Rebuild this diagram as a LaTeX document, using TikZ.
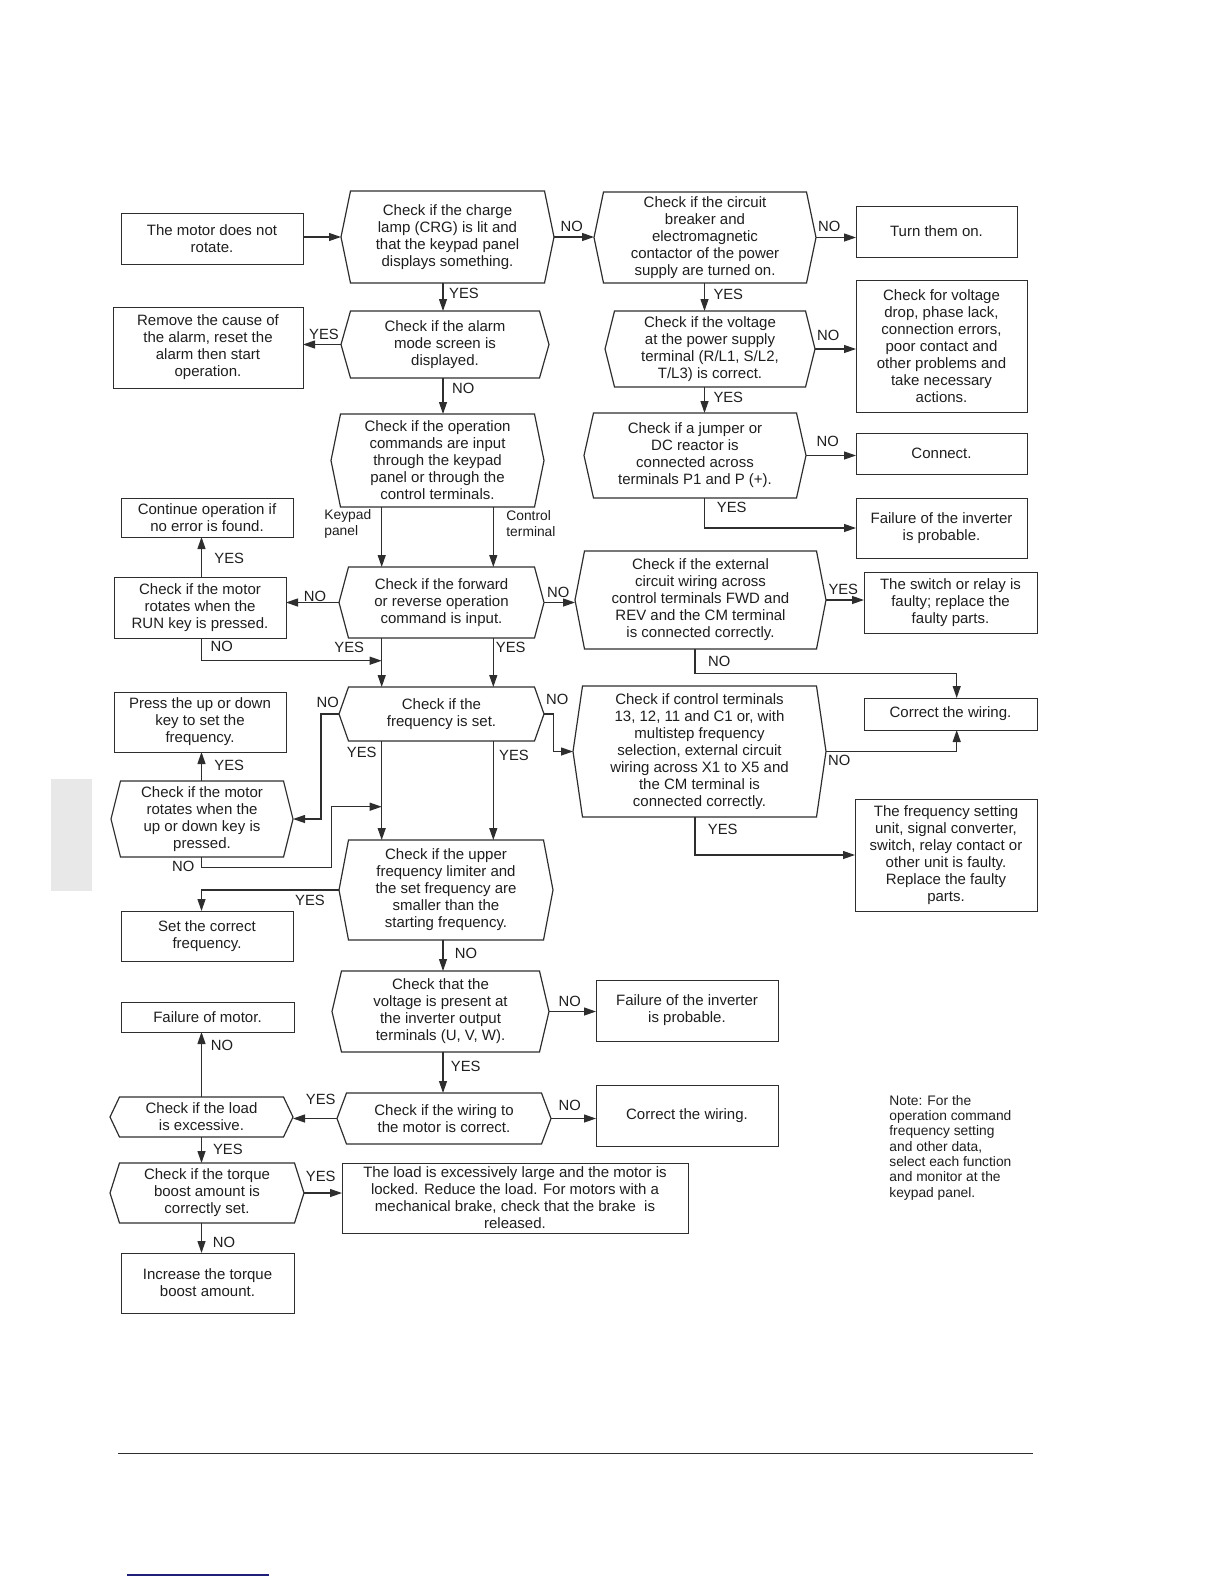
\documentclass[tikz,border=0pt]{standalone}
\usepackage{fontspec}
\setmainfont{Liberation Sans}
\usetikzlibrary{arrows.meta}
\definecolor{ink}{HTML}{1E1E1E}
\definecolor{lin}{HTML}{2E2E2E}
\definecolor{pagegray}{HTML}{E8E8E8}
\definecolor{navyline}{HTML}{1F1F7A}
\newcommand\bx[7][]{\node[boxst,#1,minimum width={(#4-#2)*0.5pt},minimum height={(#5-#3)*0.5pt}] (#6) at ({(#2+#4)/2},{(#3+#5)/2}) {#7};}
\begin{document}
\begin{tikzpicture}[x=0.5pt,y=-0.5pt,
  boxst/.style={draw=lin,line width=0.45pt,rectangle,align=center,inner sep=0pt,outer sep=0pt,text=ink,font=\fontsize{7.5}{8.5}\selectfont},
  hexst/.style={draw=none},
  lbl/.style={text=ink,inner sep=0pt,font=\fontsize{7.4}{8.5}\selectfont},
  smalllbl/.style={text=ink,inner sep=0pt,align=left,font=\fontsize{6.9}{8}\selectfont},
  arr/.style={draw=lin,line width=0.6pt,-{Triangle[length=6pt,width=4pt]}},
  hexline/.style={draw=lin,line width=0.6pt,line join=miter}]
\useasboundingbox (0,0) rectangle (1224,1584);

% page decorations
\fill[pagegray] (51,779) rectangle (91.7,890.7);
\draw[line width=0.75pt,lin] (118.3,1453.3) -- (1033,1453.3);
\draw[line width=0.8pt,navyline] (127.4,1575) -- (269.3,1575);

% nodes
\bx{121}{213}{303}{264}{box1}{The motor does not\\rotate.}
\bx[hexst]{341}{191}{554}{283}{hex2}{Check if the charge\\lamp (CRG) is lit and\\that the keypad panel\\displays something.}
\bx[hexst]{594}{192}{816}{283}{hex3}{Check if the circuit\\breaker and\\electromagnetic\\contactor of the power\\supply are turned on.}
\bx{856}{206}{1017}{257}{box4}{Turn them on.}
\bx[hexst]{341}{311}{549}{378}{hex5}{Check if the alarm\\mode screen is\\displayed.}
\bx{113}{307}{303}{388}{box6}{Remove the cause of\\the alarm, reset the\\alarm then start\\operation.}
\bx[hexst]{605}{311}{815}{387}{hex7}{Check if the voltage\\at the power supply\\terminal (R/L1, S/L2,\\T/L3) is correct.}
\bx{856}{280}{1027}{412}{box8}{Check for voltage\\drop, phase lack,\\connection errors,\\poor contact and\\other problems and\\take necessary\\actions.}
\bx[hexst]{331}{414}{544}{507}{hex9}{Check if the operation\\commands are input\\through the keypad\\panel or through the\\control terminals.}
\bx[hexst]{584}{413}{806}{498}{hex10}{Check if a jumper or\\DC reactor is\\connected across\\terminals P1 and P (+).}
\bx{856}{433}{1027}{474}{box11}{Connect.}
\bx{856}{498}{1027}{558}{box12}{Failure of the inverter\\is probable.}
\bx{121}{498}{293}{537}{box13}{Continue operation if\\no error is found.}
\bx{114}{577}{286}{638}{box14}{Check if the motor\\rotates when the\\RUN key is pressed.}
\bx[hexst]{339}{567}{544}{638}{hex15}{Check if the forward\\or reverse operation\\command is input.}
\bx[hexst]{575}{551}{826}{649}{hex16}{Check if the external\\circuit wiring across\\control terminals FWD and\\REV and the CM terminal\\is connected correctly.}
\bx{864}{572}{1037}{633}{box17}{The switch or relay is\\faulty; replace the\\faulty parts.}
\bx[hexst]{339}{687}{544}{741}{hex18}{Check if the\\frequency is set.}
\bx{114}{692}{286}{752}{box19}{Press the up or down\\key to set the\\frequency.}
\bx[hexst]{111}{781}{293}{857}{hex20}{Check if the motor\\rotates when the\\up or down key is\\pressed.}
\bx[hexst]{573}{686}{826}{817}{hex21}{Check if control terminals\\13, 12, 11 and C1 or, with\\multistep frequency\\selection, external circuit\\wiring across X1 to X5 and\\the CM terminal is\\connected correctly.}
\bx{864}{698}{1037}{730}{box22}{Correct the wiring.}
\bx{855}{799}{1037}{911}{box23}{The frequency setting\\unit, signal converter,\\switch, relay contact or\\other unit is faulty.\\Replace the faulty\\parts.}
\bx[hexst]{339}{840}{553}{940}{hex24}{Check if the upper\\frequency limiter and\\the set frequency are\\smaller than the\\starting frequency.}
\bx{121}{911}{293}{961}{box25}{Set the correct\\frequency.}
\bx[hexst]{332}{971}{549}{1052}{hex26}{Check that the\\voltage is present at\\the inverter output\\terminals (U, V, W).}
\bx{596}{980}{778}{1041}{box27}{Failure of the inverter\\is probable.}
\bx{121}{1002}{294}{1032}{box28}{Failure of motor.}
\bx[hexst]{110}{1097}{293}{1137}{hex29}{Check if the load\\is excessive.}
\bx[hexst]{337}{1093}{551}{1144}{hex30}{Check if the wiring to\\the motor is correct.}
\bx{596}{1085}{778}{1146}{box31}{Correct the wiring.}
\bx[hexst]{110}{1163}{304}{1223}{hex32}{Check if the torque\\boost amount is\\correctly set.}
\bx{342}{1163}{688}{1233}{box33}{The load is excessively large and the motor is\\locked. Reduce the load. For motors with a\\mechanical brake, check that the brake~ is\\released.}
\bx{121}{1253}{294}{1313}{box34}{Increase the torque\\boost amount.}

% hexagon outlines
\foreach \n in {hex2,hex3,hex5,hex7,hex9,hex10,hex15,hex16,hex18,hex20,hex21,hex24,hex26,hex29,hex30,hex32}{
  \draw[hexline] (\n.west) -- ([xshift=4.75pt]\n.north west) -- ([xshift=-4.75pt]\n.north east) -- (\n.east) -- ([xshift=-4.75pt]\n.south east) -- ([xshift=4.75pt]\n.south west) -- cycle;
}

% note
\node[text=ink,inner sep=0pt,align=left,anchor=west,font=\fontsize{6.9}{7.65}\selectfont] (note) at (889,1147.6) {Note: For the\\operation command\\frequency setting\\and other data,\\select each function\\and monitor at the\\keypad panel.};

% columns and junctions
\coordinate (xA) at (443,0);
\coordinate (xK) at (381.7,0);
\coordinate (xC) at (493.3,0);
\coordinate (xR) at (704.5,0);
\coordinate (xW) at (695,0);
\coordinate (xB) at (201.5,0);
\coordinate (xF) at (956.7,0);
\coordinate (j1) at (381.7,660.7);
\coordinate (j2) at (956.7,673.3);
\coordinate (j3) at (321,0);
\coordinate (j4) at (331.7,867.3);
\coordinate (j5) at (381.7,806.7);
\coordinate (j6) at (553.3,0);

% connectors
\draw[arr] (box1.east |- hex2.west) -- (hex2.west);
\draw[arr] (hex2.east) -- (hex3.west |- hex2.east);
\draw[arr] (hex3.east) -- (box4.west |- hex3.east);
\draw[arr] (xA |- hex2.south) -- (xA |- hex5.north);
\draw[arr] (hex5.west) -- (box6.east |- hex5.west);
\draw[arr] (xA |- hex5.south) -- (xA |- hex9.north);
\draw[arr] (xR |- hex3.south) -- (xR |- hex7.north);
\draw[arr] (hex7.east) -- (box8.west |- hex7.east);
\draw[arr] (xR |- hex7.south) -- (xR |- hex10.north);
\draw[arr] (hex10.east) -- (box11.west |- hex10.east);
\draw[arr] (xR |- hex10.south) |- (box12.west);
\draw[arr] (xK |- hex9.south) -- (xK |- hex15.north);
\draw[arr] (xC |- hex9.south) -- (xC |- hex15.north);
\draw[arr] (hex15.west) -- (box14.east |- hex15.west);
\draw[arr] (xB |- box14.north) -- (xB |- box13.south);
\draw[arr] (xB |- box14.south) |- (j1);
\draw[arr] (xK |- hex15.south) -- (xK |- hex18.north);
\draw[arr] (xC |- hex15.south) -- (xC |- hex18.north);
\draw[arr] (hex15.east) -- (hex16.west |- hex15.east);
\draw[arr] (hex16.east) -- (box17.west |- hex16.east);
\draw[arr] (xW |- hex16.south) |- (j2) -- (xF |- box22.north);
\draw[arr] (hex18.west) -- (j3 |- hex18.west) |- (hex20.east);
\draw[arr] (xB |- hex20.north) -- (xB |- box19.south);
\draw[arr] (xB |- hex20.south) |- (j4) |- (j5);
\draw[arr] (xK |- hex18.south) -- (xK |- hex24.north);
\draw[arr] (xC |- hex18.south) -- (xC |- hex24.north);
\draw[arr] (hex18.east) -- (j6 |- hex18.east) |- (hex21.west);
\draw[arr] (hex21.east) -| (xF |- box22.south);
\draw[arr] (xW |- hex21.south) |- (box23.west);
\draw[arr] (hex24.west) -| (xB |- box25.north);
\draw[arr] (xA |- hex24.south) -- (xA |- hex26.north);
\draw[arr] (hex26.east) -- (box27.west |- hex26.east);
\draw[arr] (xA |- hex26.south) -- (xA |- hex30.north);
\draw[arr] (hex30.west) -- (hex29.east |- hex30.west);
\draw[arr] (hex30.east) -- (box31.west |- hex30.east);
\draw[arr] (xB |- hex29.north) -- (xB |- box28.south);
\draw[arr] (xB |- hex29.south) -- (xB |- hex32.north);
\draw[arr] (hex32.east) -- (box33.west |- hex32.east);
\draw[arr] (xB |- hex32.south) -- (xB |- box34.north);

% labels
\node[lbl] (l1) at (571.7,226.7) {NO};
\node[lbl] (l2) at (829.3,226.7) {NO};
\node[lbl] (l3) at (464,293.3) {YES};
\node[lbl] (l4) at (324,334) {YES};
\node[lbl] (l5) at (463.3,388.3) {NO};
\node[lbl] (l6) at (728.3,294) {YES};
\node[lbl] (l7) at (828.3,335) {NO};
\node[lbl] (l8) at (728.3,397.3) {YES};
\node[lbl] (l9) at (827.7,441.7) {NO};
\node[lbl] (l10) at (731.7,507.7) {YES};
\node[smalllbl,anchor=west] (l11) at (324,524) {Keypad\\panel};
\node[smalllbl,anchor=west] (l12) at (506,524) {Control\\terminal};
\node[lbl] (l13) at (229.3,558.3) {YES};
\node[lbl] (l14) at (315,596) {NO};
\node[lbl] (l15) at (558.3,592.7) {NO};
\node[lbl] (l16) at (221.7,646.7) {NO};
\node[lbl] (l17) at (349.3,647.3) {YES};
\node[lbl] (l18) at (510.7,647.3) {YES};
\node[lbl] (l19) at (843.3,589.3) {YES};
\node[lbl] (l20) at (719.3,661.7) {NO};
\node[lbl] (l21) at (327.7,702.7) {NO};
\node[lbl] (l22) at (557.3,699.3) {NO};
\node[lbl] (l23) at (229.3,765) {YES};
\node[lbl] (l24) at (361.7,752.3) {YES};
\node[lbl] (l25) at (514,755) {YES};
\node[lbl] (l26) at (183.3,866.7) {NO};
\node[lbl] (l27) at (839.3,760) {NO};
\node[lbl] (l28) at (722.7,829.3) {YES};
\node[lbl] (l29) at (310,900) {YES};
\node[lbl] (l30) at (466,953.3) {NO};
\node[lbl] (l31) at (569.8,1001.7) {NO};
\node[lbl] (l32) at (465.7,1066) {YES};
\node[lbl] (l33) at (320.8,1099) {YES};
\node[lbl] (l34) at (569.8,1105) {NO};
\node[lbl] (l35) at (222,1045.7) {NO};
\node[lbl] (l36) at (227.9,1149) {YES};
\node[lbl] (l37) at (320.8,1176.7) {YES};
\node[lbl] (l38) at (224,1242.7) {NO};
\end{tikzpicture}
\end{document}
